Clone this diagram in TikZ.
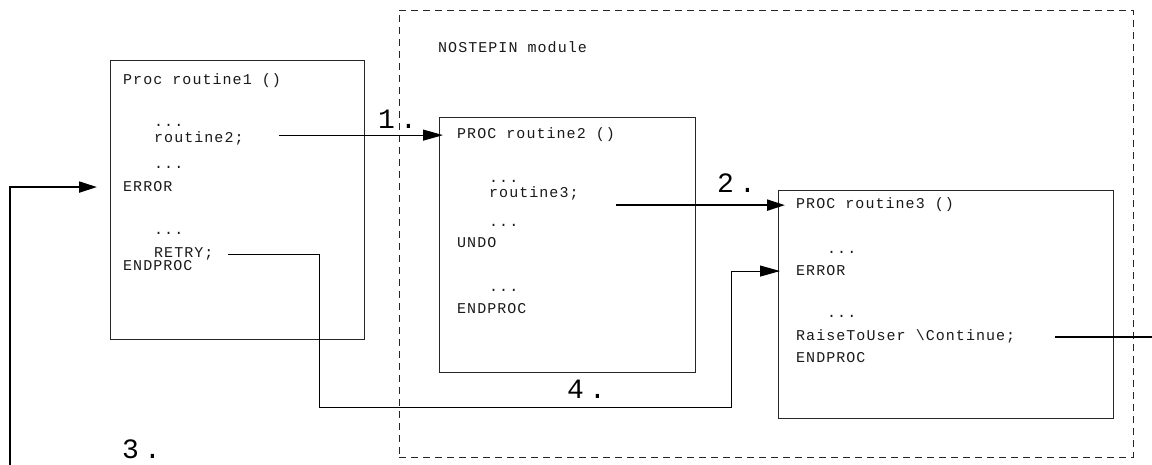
\documentclass[tikz,border=0pt]{standalone}
\usepackage{fontspec}
\usetikzlibrary{arrows.meta}
\newfontfamily\codefont[LetterSpace=7]{Liberation Mono}
\newfontfamily\stepfont[LetterSpace=18]{Liberation Mono}
\begin{document}
\begin{tikzpicture}[x=1pt,y=-1pt,
  code/.style={anchor=base west,inner sep=0pt,text=black!90,font=\codefont\fontsize{15}{17}\selectfont},
  stepno/.style={anchor=base west,inner sep=0pt,font=\stepfont\fontsize{28}{30}\selectfont},
  procbox/.style={draw=black!85,line width=1pt,anchor=north west,inner sep=0pt},
  modbox/.style={draw=black!85,line width=.9pt,dash pattern=on 7pt off 5pt,anchor=north west,inner sep=0pt},
  flow/.style={line width=1pt,-{Triangle[length=20pt,width=11pt]}},
  thickflow/.style={line width=2pt,-{Triangle[length=18pt,width=11pt]}}]
\useasboundingbox (0,0) rectangle (1152,465);
\node[modbox,minimum width=734pt,minimum height=447pt] (nostepin) at (399,10) {};
\node[code] (modname) at (438,53) {NOSTEPIN module};
\node[procbox,minimum width=254pt,minimum height=279pt] (rt1) at (110,60) {};
\node[procbox,minimum width=256pt,minimum height=255pt] (rt2) at (439,117) {};
\node[procbox,minimum width=335pt,minimum height=228pt] (rt3) at (778,190) {};
\node[code] (r1head) at (123,85) {Proc routine1 ()};
\node[code] (r1dotsa) at (154,127) {...};
\node[code] (r1call) at (154,143) {routine2;};
\node[code] (r1dotsb) at (154,169) {...};
\node[code] (r1err) at (123,192) {ERROR};
\node[code] (r1dotsc) at (154,235) {...};
\node[code] (r1retry) at (154,258) {RETRY;};
\node[code] (r1end) at (123,271) {ENDPROC};
\node[code] (r2head) at (457,139) {PROC routine2 ()};
\node[code] (r2dotsa) at (489,183) {...};
\node[code] (r2call) at (489,198) {routine3;};
\node[code] (r2dotsb) at (489,227) {...};
\node[code] (r2undo) at (457,248) {UNDO};
\node[code] (r2dotsc) at (489,292) {...};
\node[code] (r2end) at (457,313) {ENDPROC};
\node[code] (r3head) at (796,209) {PROC routine3 ()};
\node[code] (r3dotsa) at (827,254) {...};
\node[code] (r3err) at (796,276) {ERROR};
\node[code] (r3dotsb) at (827,318) {...};
\node[code] (r3raise) at (796,341) {RaiseToUser \textbackslash Continue;};
\node[code] (r3end) at (796,362) {ENDPROC};
\node[stepno] (stepa) at (378,129) {1.};
\node[stepno] (stepb) at (717,193) {2.};
\node[stepno] (stepc) at (122,458) {3.};
\node[stepno] (stepd) at (567,398) {4.};
\coordinate (calla) at ([xshift=35pt]r1call.east);
\coordinate (callb) at ([xshift=37pt]r2call.east);
\coordinate (errin) at (10,465);
\coordinate (rightout) at (1152,0);
\coordinate (loopa) at (319,407);
\coordinate (loopb) at (731,407);
\draw[flow,shorten >=-4pt] (calla |- r2head.west) -- (rt2.west |- r2head.west);
\draw[thickflow,shorten >=-7pt] (callb |- r3head.west) -- (rt3.west |- r3head.west);
\draw[thickflow,shorten >=13pt] (errin) |- (rt1.west |- r1err.west);
\draw[flow,shorten >=-2pt] ([xshift=14pt]r1retry.east) -| (loopa) -- (loopb) |- (rt3.west |- r3err.west);
\draw[line width=1.7pt] ([xshift=40pt]r3raise.east) -- (r3raise.east -| rightout);
\end{tikzpicture}
\end{document}
